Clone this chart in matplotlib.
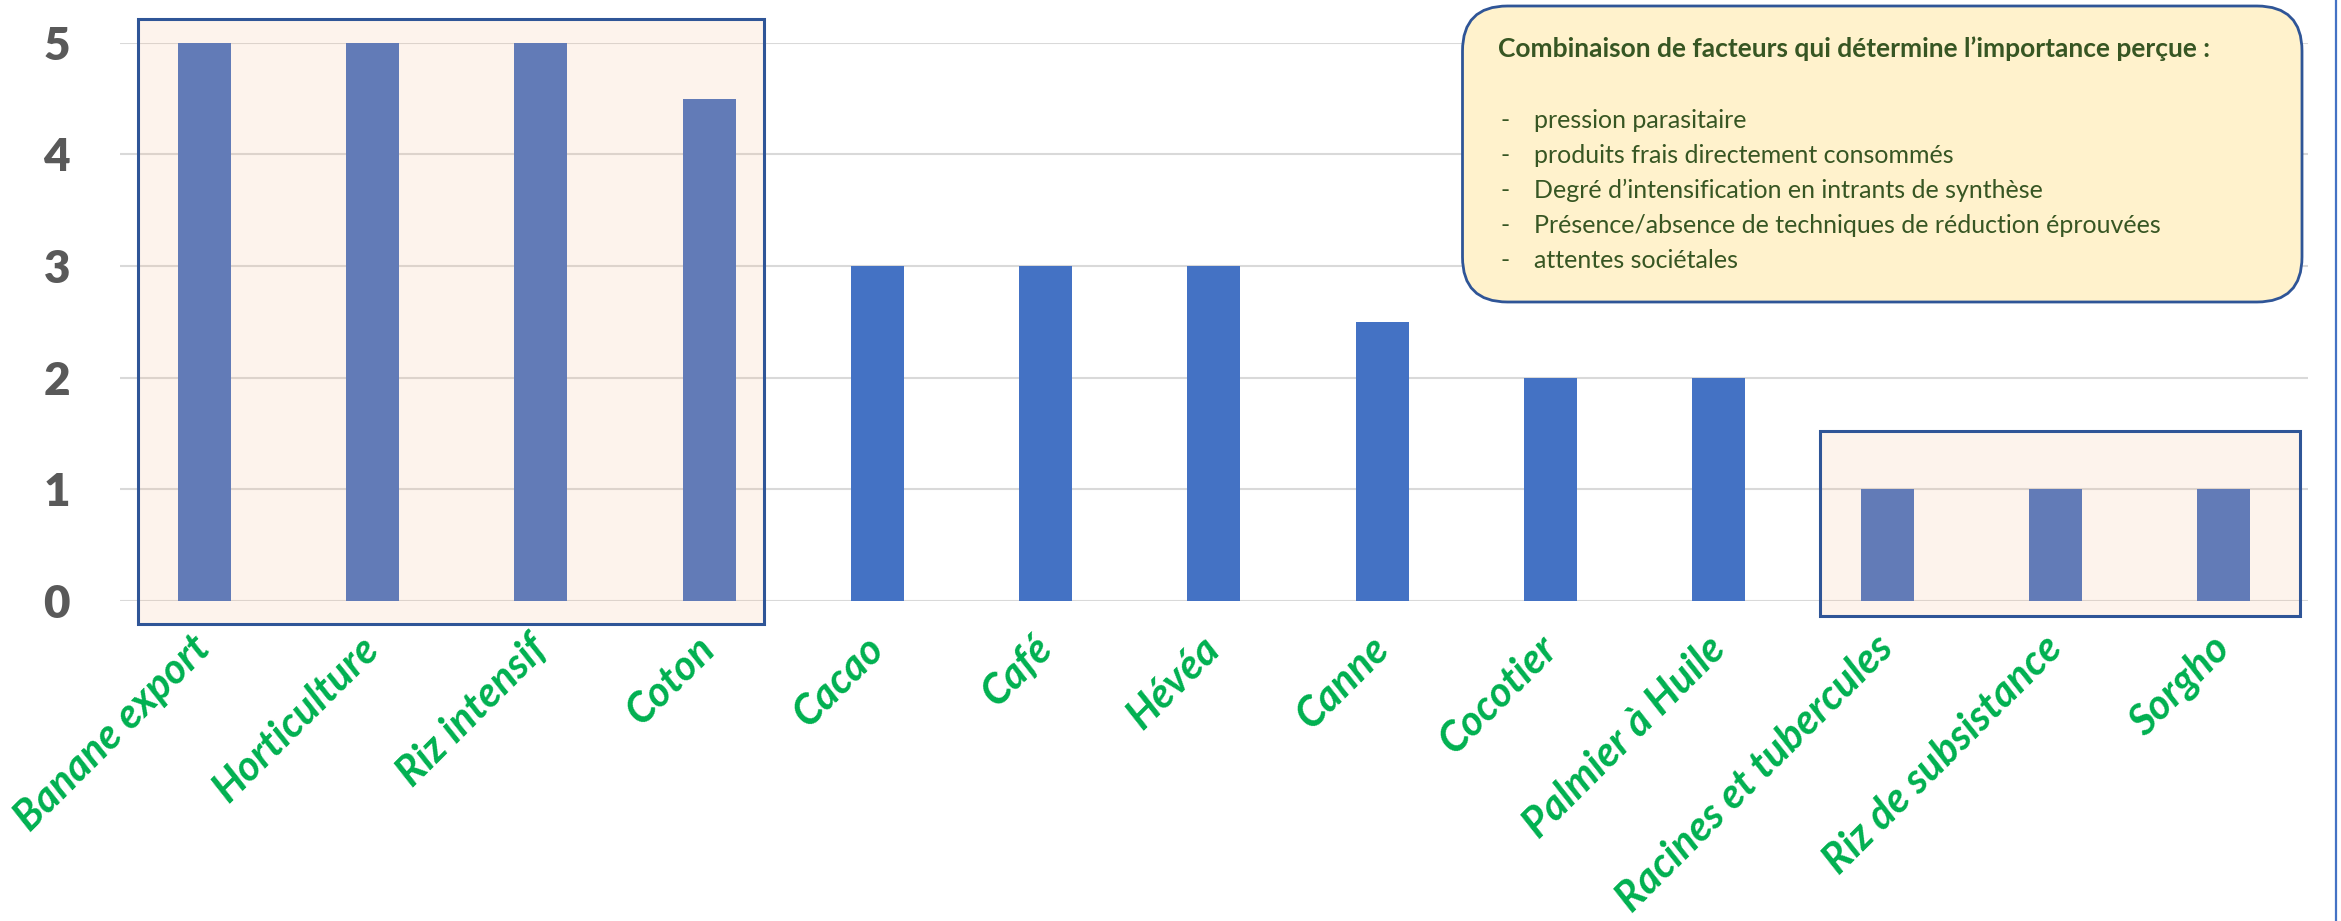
import matplotlib
matplotlib.use("Agg")
import matplotlib.pyplot as plt
from matplotlib.patches import Rectangle, FancyBboxPatch
from matplotlib.lines import Line2D

plt.rcParams['font.family'] = ['Lato', 'DejaVu Sans']

# data
cultures = ['Banane export', 'Horticulture', 'Riz intensif', 'Coton', 'Cacao', 'Café',
            'Hévéa', 'Canne', 'Cocotier', 'Palmier à Huile', 'Racines et tubercules',
            'Riz de subsistance', 'Sorgho']
importance = [5, 5, 5, 4.5, 3, 3, 3, 2.5, 2, 2, 1, 1, 1]
surlignees = [0, 1, 2, 3, 10, 11, 12]

titre_encadre = "Combinaison de facteurs qui détermine l’importance perçue :"
facteurs = ['pression parasitaire',
            'produits frais directement consommés',
            'Degré d’intensification en intrants de synthèse',
            'Présence/absence de techniques de réduction éprouvées',
            'attentes sociétales']

fig = plt.figure(figsize=(23.41, 9.21), dpi=100)
ax = fig.add_axes([0.05126, 0.3477, 0.9346, 0.6059])

x = range(len(cultures))
couleurs = ['#627BB7' if i in surlignees else '#4472C4' for i in x]
ax.bar(x, importance, width=0.315, color=couleurs, zorder=3)

ax.set_xlim(-0.5, len(cultures) - 0.5)
ax.set_ylim(0, 5)
ax.set_yticks(range(6))
ax.yaxis.grid(True, color='#D9D9D9', linewidth=1.5, zorder=0)
ax.set_axisbelow(True)
for s in ax.spines.values():
    s.set_visible(False)

ax.tick_params(axis='y', length=0, pad=36, labelsize=33, labelcolor='#595959')
for lab in ax.get_yticklabels():
    lab.set_fontweight('heavy')

ax.set_xticks(list(x))
ax.set_xticklabels(cultures, rotation=45, ha='right', va='center',
                   rotation_mode='anchor', color='#00B050', fontsize=30,
                   fontweight='bold', fontstyle='italic')
ax.tick_params(axis='x', length=0, pad=30)

# zones encadrées
for (x0, x1, y0, y1) in [(-0.392, 3.327, -0.204, 5.216), (9.60, 12.455, -0.134, 1.52)]:
    ax.add_patch(Rectangle((x0, y0), x1 - x0, y1 - y0, facecolor='#F4B183', alpha=0.15,
                           edgecolor='none', zorder=1.5, clip_on=False))
    ax.add_patch(Rectangle((x0, y0), x1 - x0, y1 - y0, facecolor='none',
                           edgecolor='#2F5597', linewidth=2.2, zorder=4, clip_on=False))

# encadré texte
t = fig.dpi_scale_trans
fig.add_artist(FancyBboxPatch((14.625, 6.19), 8.395, 2.96,
                              boxstyle='round,pad=0,rounding_size=0.45',
                              facecolor='#FFF2CC', edgecolor='#2F5597', linewidth=2,
                              transform=t, zorder=5))
fig.text(14.98, 8.64, titre_encadre, transform=t, fontsize=19, fontweight='bold',
         color='#375623', va='baseline', zorder=6)
for k, f in enumerate(facteurs):
    yb = 7.93 - 0.35 * k
    fig.text(15.01, yb, '-', transform=t, fontsize=18, color='#375623', va='baseline', zorder=6)
    fig.text(15.335, yb, f, transform=t, fontsize=18, color='#375623', va='baseline', zorder=6)

fig.add_artist(Line2D([0.9979, 0.9979], [0, 1], color='#4472C4', linewidth=1.6))

fig.savefig('out.png', dpi=100)
